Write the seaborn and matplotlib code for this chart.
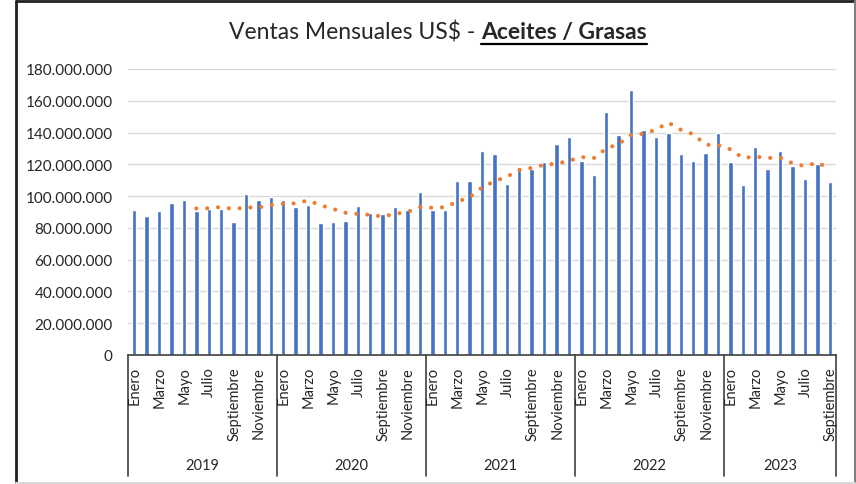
import matplotlib
matplotlib.use("Agg")
import matplotlib.pyplot as plt
from matplotlib.lines import Line2D
from matplotlib.ticker import FuncFormatter
import seaborn as sns
import pandas as pd

# monthly sales, millions of US$
anios = ["2019", "2020", "2021", "2022", "2023"]
meses = ["Enero", "Febrero", "Marzo", "Abril", "Mayo", "Junio", "Julio",
         "Agosto", "Septiembre", "Octubre", "Noviembre", "Diciembre"]
ventas_2019 = [91.2, 87.6, 90.8, 95.6, 97.7, 90.4, 92.2, 92.0, 83.4, 101.5, 97.5, 99.2]
ventas_2020 = [97.7, 93.3, 94.5, 83.2, 83.9, 84.5, 93.5, 89.5, 88.5, 92.9, 91.4, 102.5]
ventas_2021 = [91.2, 91.2, 109.4, 109.6, 128.5, 126.4, 107.8, 117.4, 116.8, 121.2, 132.7, 137.5]
ventas_2022 = [121.8, 113.4, 153.0, 138.6, 166.9, 141.7, 137.3, 140.0, 126.2, 122.0, 127.0, 140.0]
ventas_2023 = [121.6, 107.3, 131.0, 117.0, 128.5, 118.7, 110.7, 120.5, 108.6]

serie = [ventas_2019, ventas_2020, ventas_2021, ventas_2022, ventas_2023]
rows = []
for anio, vals in zip(anios, serie):
    for m, v in enumerate(vals):
        rows.append({"anio": anio, "mes": meses[m], "ventas": v * 1e6})
df = pd.DataFrame(rows)
df["pos"] = range(len(df))
# Excel trendline: 6-period moving average
df["media_movil"] = df["ventas"].rolling(6).mean()

sns.set_style("white")
plt.rcParams["font.family"] = ["Lato", "DejaVu Sans"]

fig = plt.figure(figsize=(8.56, 4.85), dpi=100)
W, H = 856, 485
ax = fig.add_axes([128 / W, 1 - 356 / H, (836 - 128) / W, (356 - 70) / H])

sns.barplot(data=df, x="pos", y="ventas", color="#4472C4", width=0.36,
            saturation=1, ax=ax)
sns.lineplot(data=df, x="pos", y="media_movil", color="#ED7D31", lw=3,
             ax=ax, linestyle=(0, (0.01, 2.6)), dash_capstyle="round")

ax.set_xlim(-0.5, len(df) - 0.5)
ax.set_ylim(0, 180e6)
ax.set_yticks([i * 20e6 for i in range(10)])
ax.yaxis.set_major_formatter(FuncFormatter(lambda v, p: f"{v:,.0f}".replace(",", ".")))
ax.tick_params(axis="y", labelsize=11, length=0, pad=11)
ax.grid(axis="y", color="#D9D9D9", lw=1)
ax.set_axisbelow(True)
ax.set_xticks([])
ax.set_xlabel("")
ax.set_ylabel("")
for s in ["top", "right", "left"]:
    ax.spines[s].set_visible(False)
ax.spines["bottom"].set_color("#404040")
ax.spines["bottom"].set_linewidth(1.2)

# multi-level category axis
trans = ax.get_xaxis_transform()
y_mes = -11 / 286
for _, r in df.iterrows():
    if r["pos"] % 2 == 0:
        ax.text(r["pos"] + 0.05, y_mes, r["mes"], rotation=90, ha="center", va="top",
                fontsize=10.5, transform=trans, clip_on=False)
start = 0
for anio, vals in zip(anios, serie):
    end = start + len(vals)
    ax.add_line(Line2D([start - 0.5, start - 0.5], [0, -121 / 286], transform=trans,
                       color="#404040", lw=1.2, clip_on=False))
    ax.text((start + end - 1) / 2, -110 / 286, anio, ha="center", va="center",
            fontsize=10.5, transform=trans)
    start = end
ax.add_line(Line2D([start - 0.5, start - 0.5], [0, -121 / 286], transform=trans,
                   color="#404040", lw=1.2, clip_on=False))

# title: plain part + bold underlined part
t1 = fig.text(0.5, 1 - 33 / H, "Ventas Mensuales US$ - ", fontsize=16.5, ha="right", va="center")
t2 = fig.text(0.5, 1 - 33 / H, "Aceites / Grasas", fontsize=16.5, fontweight="bold",
              ha="left", va="center")
fig.canvas.draw()
r = fig.canvas.get_renderer()
w1 = t1.get_window_extent(r).width
w2 = t2.get_window_extent(r).width
cx = 438
x0 = (cx - (w1 + w2) / 2 + w1) / W
t1.set_x(x0)
t2.set_x(x0)
b2 = t2.get_window_extent(r)
fig.add_artist(Line2D([x0, x0 + b2.width / W], [1 - 45 / H, 1 - 45 / H],
                      color="black", lw=1.6, transform=fig.transFigure))

# chart frame
fig.add_artist(Line2D([16 / W, 16 / W], [0, 1 - 2 / H], color="#202020", lw=2))
fig.add_artist(Line2D([16 / W, 855 / W], [1 - 2 / H, 1 - 2 / H], color="#202020", lw=2))
fig.add_artist(Line2D([855 / W, 855 / W], [0, 1 - 2 / H], color="#808080", lw=1.5))
fig.add_artist(Line2D([16 / W, 855 / W], [1 - 484 / H, 1 - 484 / H], color="#D9D9D9", lw=1.5))

fig.savefig("out.png", dpi=100)
